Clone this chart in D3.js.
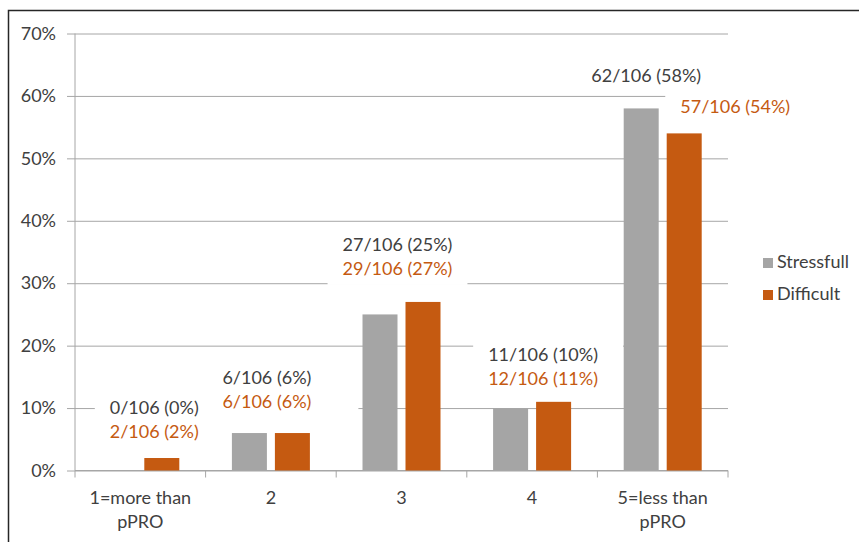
<!DOCTYPE html>
<html>
<head>
<meta charset="utf-8">
<script src="https://cdn.jsdelivr.net/npm/d3@7"></script>
<style>
  html, body { margin: 0; padding: 0; background: #fff; }
  svg { display: block; }
</style>
</head>
<body>
<div class="chart"></div>
<script>
// Values (n = 106 patients)
var categories = ["1=more than\npPRO", "2", "3", "4", "5=less than\npPRO"];
var seriesNames = ["Stressfull", "Difficult"];
var stressCounts = [0, 6, 27, 11, 62];
var difficultCounts = [2, 6, 29, 12, 57];
var stressPct = [0, 6, 25, 10, 58];
var difficultPct = [2, 6, 27, 11, 54];
var total = 106;
var yTicks = [0, 10, 20, 30, 40, 50, 60, 70];

/* Where each data label sits. dx moves the label sideways from the category
** centre, dy puts the last baseline above the top of the taller bar.
** The last category has its two labels placed apart, one over each bar.
*/
var labelLayout = [
    { dx: 14, dy: -20 },
    { dx: -4, dy: -25, extraRight: 32 },
    { dx: -4, dy: -27 },
    { dx: 11, dy: -17, extraRight: 10 },
    { split: [{ dx: 5, dy: -26 }, { dx: 51, dy: -20 }] }
];

var config = {
    colors: {
        bars: ["#a5a5a5", "#c55a11"],
        labels: ["#404040", "#c55a11"],
        grid: "#a6a6a6",
        text: "#404040",
        frame: "#262626"
    },
    fontFamily: "Lato, 'Open Sans', sans-serif",
    fontSize: 18,
    lineHeight: 24,
    width: 859,
    height: 542,
    plot: { left: 75, right: 728, top: 33.5, bottom: 470.5 }
};

var data = categories.map(function (c, i) {
    return {
        cat: c,
        values: [
            { s: 0, pct: stressPct[i], count: stressCounts[i] },
            { s: 1, pct: difficultPct[i], count: difficultCounts[i] }
        ]
    };
});

function labelText(v) {
    return v.count + "/" + total + " (" + v.pct + "%)";
}

var svg = d3.select(".chart").append("svg")
    .attr("width", config.width)
    .attr("height", config.height)
    .style("font-family", config.fontFamily)
    .style("font-size", config.fontSize + "px");

var x = d3.scaleBand()
    .domain(categories)
    .range([config.plot.left, config.plot.right]);

var xInner = d3.scaleBand()
    .domain([0, 1])
    .range([x.bandwidth() / 2 - 39, x.bandwidth() / 2 + 39])
    .paddingInner(0.186);

var y = d3.scaleLinear()
    .domain([0, 70])
    .range([config.plot.bottom, config.plot.top]);

// outer frame of the pasted chart
svg.append("rect")
    .attr("x", 8.5)
    .attr("y", 10.5)
    .attr("width", config.width + 20)
    .attr("height", config.height + 20)
    .attr("fill", "none")
    .attr("stroke", config.colors.frame)
    .attr("stroke-width", 1.5);

// gridlines + y axis
var yAxis = d3.axisLeft(y)
    .tickValues(yTicks)
    .tickSize(-(config.plot.right - config.plot.left))
    .tickPadding(19)
    .tickFormat(function (d) { return d + "%"; });

var gy = svg.append("g")
    .attr("transform", "translate(" + config.plot.left + ",0)")
    .call(yAxis);
gy.select(".domain").remove();
gy.selectAll(".tick line")
    .attr("stroke", config.colors.grid)
    .attr("x1", -8);
gy.selectAll(".tick text")
    .attr("fill", config.colors.text)
    .attr("dy", "0.32em")
    .style("font-family", config.fontFamily)
    .style("font-size", config.fontSize + "px");

// the label boxes sit over the gridlines but under the bars
var boxLayer = svg.append("g");

// vertical axis line
svg.append("line")
    .attr("x1", config.plot.left).attr("x2", config.plot.left)
    .attr("y1", y(70)).attr("y2", y(0))
    .attr("stroke", config.colors.grid);

// x axis with category ticks between groups
var xAxis = d3.axisBottom(x).tickSize(0).tickFormat("");
var gx = svg.append("g")
    .attr("transform", "translate(0," + y(0) + ")")
    .call(xAxis);
gx.select(".domain").attr("stroke", config.colors.grid).attr("d",
    "M" + config.plot.left + ",0H" + config.plot.right);

var sepX = categories.map(function (c) { return x(c); }).concat([x(categories[categories.length - 1]) + x.bandwidth()]);
gx.selectAll(".sep")
    .data(sepX)
    .enter().append("line")
    .attr("x1", function (d) { return d; })
    .attr("x2", function (d) { return d; })
    .attr("y1", 0)
    .attr("y2", 7)
    .attr("stroke", config.colors.grid);

var catLabels = svg.selectAll(".catlabel")
    .data(categories)
    .enter().append("text")
    .attr("class", "catlabel")
    .attr("text-anchor", "middle")
    .attr("fill", config.colors.text);
catLabels.each(function (c) {
    var t = d3.select(this);
    c.split("\n").forEach(function (line, i) {
        t.append("tspan")
            .attr("x", x(c) + x.bandwidth() / 2)
            .attr("y", y(0) + 33.5 + i * config.lineHeight)
            .text(line);
    });
});

// bars
var groups = svg.selectAll(".group")
    .data(data)
    .enter().append("g")
    .attr("class", "group")
    .attr("transform", function (d) { return "translate(" + x(d.cat) + ",0)"; });

groups.selectAll("rect")
    .data(function (d) { return d.values; })
    .enter().append("rect")
    .attr("x", function (v) { return xInner(v.s); })
    .attr("width", xInner.bandwidth())
    .attr("y", function (v) { return y(v.pct); })
    .attr("height", function (v) { return y(0) - y(v.pct); })
    .attr("fill", function (v) { return config.colors.bars[v.s]; });

// data labels
var labelLayer = svg.append("g");

function addLabel(cx, baselines, items, extraRight) {
    var g = labelLayer.append("g");
    var texts = items.map(function (v, i) {
        return g.append("text")
            .attr("x", cx)
            .attr("y", baselines[i])
            .attr("text-anchor", "middle")
            .attr("fill", config.colors.labels[v.s])
            .text(labelText(v));
    });
    var w = d3.max(texts, function (t) { return t.node().getComputedTextLength(); });
    boxLayer.append("rect")
        .attr("x", cx - w / 2 - 15)
        .attr("y", baselines[0] - 19)
        .attr("width", w + 30 + (extraRight || 0))
        .attr("height", baselines[baselines.length - 1] - baselines[0] + 29)
        .attr("fill", "#fff");
}

data.forEach(function (d, i) {
    var lay = labelLayout[i];
    var cx = x(d.cat) + x.bandwidth() / 2;
    if (lay.split) {
        d.values.forEach(function (v, k) {
            var bx = x(d.cat) + xInner(v.s) + xInner.bandwidth() / 2;
            addLabel(bx + lay.split[k].dx, [y(v.pct) + lay.split[k].dy], [v]);
        });
    } else {
        var top = y(d3.max(d.values, function (v) { return v.pct; }));
        var last = top + lay.dy;
        addLabel(cx + lay.dx, [last - config.lineHeight, last], d.values, lay.extraRight);
    }
});

// legend
var legend = svg.append("g")
    .attr("transform", "translate(763,258)");
var li = legend.selectAll(".item")
    .data(seriesNames)
    .enter().append("g")
    .attr("transform", function (d, i) { return "translate(0," + (i * 32) + ")"; });
li.append("rect")
    .attr("width", 10)
    .attr("height", 10)
    .attr("fill", function (d, i) { return config.colors.bars[i]; });
li.append("text")
    .attr("x", 14)
    .attr("y", 10)
    .attr("fill", config.colors.text)
    .text(function (d) { return d; });
</script>
</body>
</html>
